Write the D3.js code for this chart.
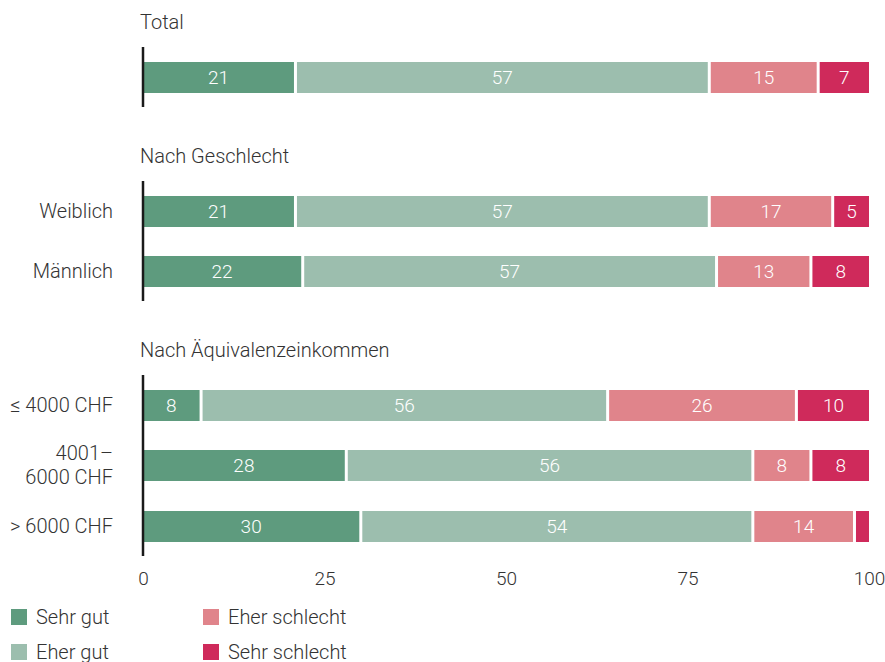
<!DOCTYPE html>
<html><head><meta charset="utf-8">
<script src="https://cdn.jsdelivr.net/npm/d3@7"></script>
<style>
body{margin:0;background:#fff;}
text{font-family:Roboto,"Noto Sans",sans-serif;font-weight:300;}
</style></head>
<body><svg id="c" width="885" height="662"></svg>
<script>
const sections = ["Total", "Nach Geschlecht", "Nach Äquivalenzeinkommen"];
const categories = ["", "Weiblich", "Männlich", "≤ 4000 CHF", "4001–\n6000 CHF", "> 6000 CHF"];
const categorySection = [0, 1, 1, 2, 2, 2];
const seriesNames = ["Sehr gut", "Eher gut", "Eher schlecht", "Sehr schlecht"];
const sehrGut      = [21, 21, 22, 8, 28, 30];
const eherGut      = [57, 57, 57, 56, 56, 54];
const eherSchlecht = [15, 17, 13, 26, 8, 14];
const sehrSchlecht = [7, 5, 8, 10, 8, 2];
const xTicks = [0, 25, 50, 75, 100];
const colors = ["#5e9b7e", "#9cbeae", "#e0848b", "#cf2a5b"];

const svg = d3.select("#c");
const x = d3.scaleLinear().domain([0, 100]).range([143, 869]);
const rowY = [62, 196, 256, 390, 450, 511];
const barH = 31;
const sectionTitleY = [24, 158, 352];
const sectionAxis = [[47, 107], [181, 301], [375, 556]];
const FS = 20;

const table = categories.map((c, i) => ({cat: c, vals: [sehrGut[i], eherGut[i], eherSchlecht[i], sehrSchlecht[i]]}));

// section titles
sections.forEach((s, i) => {
  svg.append("text").attr("x", 140).attr("y", sectionTitleY[i]).attr("font-size", FS)
    .attr("fill", "#333").attr("dominant-baseline", "middle").text(s);
});

// bars
table.forEach((row, i) => {
  let acc = 0;
  const g = svg.append("g");
  row.vals.forEach((v, k) => {
    const x0 = acc, x1 = acc + v; acc = x1;
    const left = x(x0) + (k > 0 ? 1.5 : 0);
    const right = x(x1) - (k < 3 ? 1.5 : 0);
    g.append("rect").attr("x", left).attr("y", rowY[i]).attr("width", Math.max(0, right - left))
      .attr("height", barH).attr("fill", colors[k]);
    if (v >= 4) {
      g.append("text").attr("x", (left + right) / 2).attr("y", rowY[i] + barH / 2 + 1)
        .attr("text-anchor", "middle").attr("dominant-baseline", "middle")
        .attr("font-size", 19).attr("fill", "#fff").text(v);
    }
  });
  // category label
  const lines = row.cat.split("\n");
  const cy = rowY[i] + barH / 2;
  lines.forEach((ln, j) => {
    svg.append("text").attr("x", 113).attr("y", cy + (j - (lines.length - 1) / 2) * 24 + 1)
      .attr("text-anchor", "end").attr("dominant-baseline", "middle")
      .attr("font-size", FS).attr("fill", "#333").text(ln);
  });
});

// axis lines
sectionAxis.forEach(([a, b]) => {
  svg.append("line").attr("x1", x(0)).attr("x2", x(0)).attr("y1", a).attr("y2", b)
    .attr("stroke", "#1a1a1a").attr("stroke-width", 2.5);
});

// x axis tick labels
const axis = d3.axisBottom(x).tickValues(xTicks).tickSize(0).tickPadding(0);
const ga = svg.append("g").attr("transform", "translate(0,571)").call(axis);
ga.select(".domain").remove();
ga.selectAll("text").attr("font-size", 19).attr("fill", "#333")
  .attr("font-family", "Roboto, sans-serif").attr("font-weight", 300);

// legend
const legPos = [[11, 617], [11, 652], [203, 617], [203, 652]];
seriesNames.forEach((n, k) => {
  const [lx, ly] = legPos[k];
  svg.append("rect").attr("x", lx).attr("y", ly - 8).attr("width", 16).attr("height", 16).attr("fill", colors[k]);
  svg.append("text").attr("x", lx + 25).attr("y", ly + 2).attr("dominant-baseline", "middle")
    .attr("font-size", FS).attr("fill", "#333").text(n);
});
</script></body></html>
